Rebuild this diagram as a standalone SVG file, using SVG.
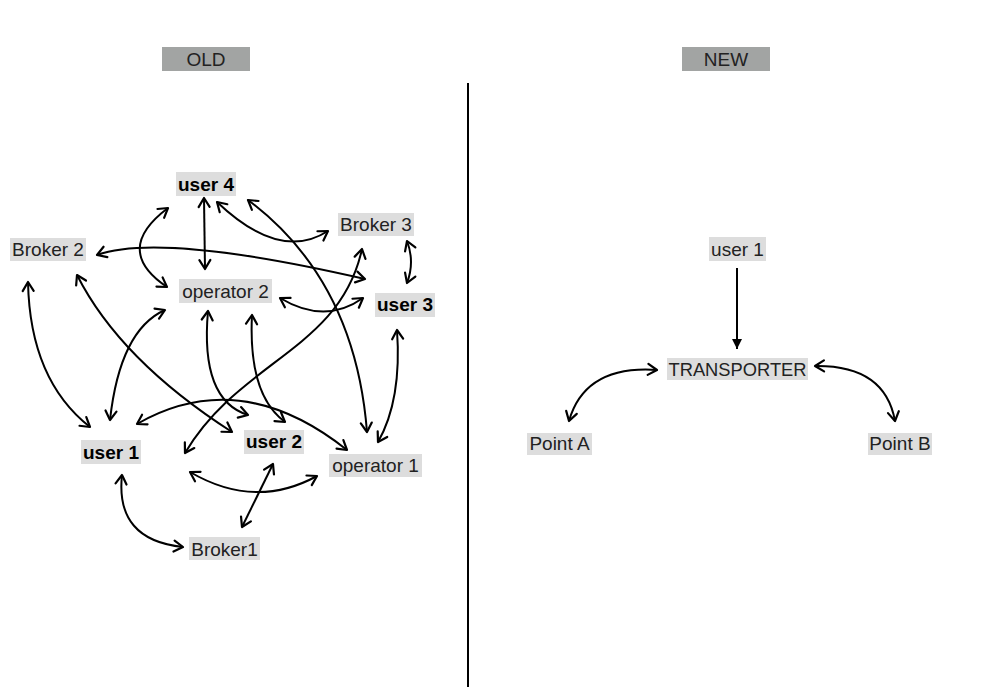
<svg xmlns="http://www.w3.org/2000/svg" width="993" height="699" viewBox="0 0 993 699">
<style>
.bg{fill:#ffffff}
.title{fill:#a2a4a3}
.box{fill:#dddddd}
.t{font-family:"Liberation Sans",Arial,sans-serif;font-size:19px;fill:#222222;text-anchor:middle}
.b{font-weight:bold;fill:#000000}
.c{fill:none;stroke:#000000;stroke-width:2;marker-start:url(#ah);marker-end:url(#ah)}
.s{fill:none;stroke:#000000;stroke-width:2;marker-end:url(#fh)}
</style>
<defs>
<marker id="ah" markerUnits="userSpaceOnUse" viewBox="-12 -8 14 16" refX="0" refY="0" markerWidth="14" markerHeight="16" orient="auto-start-reverse">
<path d="M -9 -5.5 L 0 0 L -9 5.5" fill="none" stroke="#000000" stroke-width="2.2" stroke-linejoin="round" stroke-linecap="round"/>
</marker>
<marker id="fh" markerUnits="userSpaceOnUse" viewBox="-12 -8 14 16" refX="0" refY="0" markerWidth="14" markerHeight="16" orient="auto">
<path d="M -10 -5 L 0 0 L -10 5 Z" fill="#000000"/>
</marker>
</defs>
<rect class="bg" x="0" y="0" width="993" height="699"/>

<g id="title-old"><rect class="title" x="162" y="47" width="88" height="24"/><text class="t" x="206" y="66">OLD</text></g>
<g id="title-new"><rect class="title" x="682" y="47" width="88" height="24"/><text class="t" x="726" y="66">NEW</text></g>
<g id="divider"><line x1="468" y1="83" x2="468" y2="687" stroke="#000000" stroke-width="2"/></g>

<g id="connectors">
<path class="c" d="M 204 198 L 205 269"/>
<path class="c" d="M 217 202 Q 280 262 328 231"/>
<path class="c" d="M 248 200 Q 355 280 367 432"/>
<path class="c" d="M 168 208 Q 112 250 167 287"/>
<path class="c" d="M 97 255 Q 160 232 365 279"/>
<path class="c" d="M 407 241 Q 415 262 407 283"/>
<path class="c" d="M 280 298 Q 325 325 363 298"/>
<path class="c" d="M 362 249 C 340 350 240 360 185 453"/>
<path class="c" d="M 28 282 Q 30 380 90 427"/>
<path class="c" d="M 77 275 Q 120 360 232 432"/>
<path class="c" d="M 165 310 Q 120 330 110 420"/>
<path class="c" d="M 208 311 Q 200 400 248 415"/>
<path class="c" d="M 252 315 Q 248 395 285 422"/>
<path class="c" d="M 137 424 Q 240 365 347 450"/>
<path class="c" d="M 397 330 Q 402 400 378 442"/>
<path class="c" d="M 190 472 Q 255 510 317 476"/>
<path class="c" d="M 273 464 L 242 527"/>
<path class="c" d="M 122 475 Q 115 540 183 547"/>
<path class="s" d="M 737 268 L 737 349"/>
<path class="c" d="M 657 370 Q 585 365 569 421"/>
<path class="c" d="M 815 366 Q 885 365 895 421"/>
</g>

<g id="user4"><rect class="box" x="176" y="172" width="60" height="24"/><text class="t b" x="206" y="191">user 4</text></g>
<g id="broker2"><rect class="box" x="10" y="238" width="76" height="23"/><text class="t" x="48" y="256">Broker 2</text></g>
<g id="operator2"><rect class="box" x="179" y="279" width="93" height="24"/><text class="t" x="225.5" y="298">operator 2</text></g>
<g id="broker3"><rect class="box" x="338" y="213" width="76" height="23"/><text class="t" x="376" y="231">Broker 3</text></g>
<g id="user3"><rect class="box" x="375" y="293" width="60" height="24"/><text class="t b" x="405" y="311">user 3</text></g>
<g id="user1"><rect class="box" x="81" y="440" width="60" height="24"/><text class="t b" x="111" y="459">user 1</text></g>
<g id="user2"><rect class="box" x="244" y="430" width="60" height="24"/><text class="t b" x="274" y="448">user 2</text></g>
<g id="operator1"><rect class="box" x="329" y="454" width="93" height="23"/><text class="t" x="375.5" y="472">operator 1</text></g>
<g id="broker1"><rect class="box" x="189" y="537" width="71" height="23"/><text class="t" x="224.5" y="556">Broker1</text></g>

<g id="new-user1"><rect class="box" x="709" y="237" width="57" height="24"/><text class="t" x="737.5" y="256">user 1</text></g>
<g id="transporter"><rect class="box" x="667" y="358" width="141" height="22"/><text class="t" x="737.5" y="376" textLength="138" lengthAdjust="spacingAndGlyphs">TRANSPORTER</text></g>
<g id="pointA"><rect class="box" x="527" y="433" width="65" height="22"/><text class="t" x="559.5" y="450">Point A</text></g>
<g id="pointB"><rect class="box" x="868" y="433" width="64" height="22"/><text class="t" x="900" y="450">Point B</text></g>
</svg>
